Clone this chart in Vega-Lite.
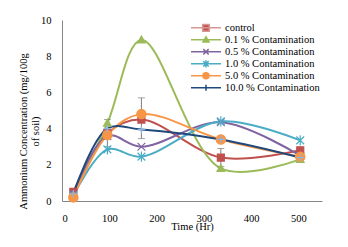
{
  "$schema": "https://vega.github.io/schema/vega-lite/v6.json",
  "autosize": "none",
  "width": 260,
  "height": 181,
  "padding": {"left": 62, "top": 20, "right": 26, "bottom": 46},
  "background": "white",
  "config": {
    "view": {"stroke": null},
    "font": "Liberation Serif",
    "axis": {"grid": false, "ticks": false, "domainColor": "#868686", "domainWidth": 1, "labelFont": "Liberation Serif", "labelFontSize": 10.5, "labelColor": "#000", "titleFont": "Liberation Serif", "titleFontSize": 10.5, "titleFontWeight": "normal", "titleColor": "#000"}
  },
  "data": {
    "values": [
      {"series": "control", "time": 24, "value": 0.5},
      {"series": "control", "time": 96, "value": 3.75, "lo": 3.0, "hi": 4.5},
      {"series": "control", "time": 168, "value": 4.5, "lo": 3.45, "hi": 5.7},
      {"series": "control", "time": 336, "value": 2.4, "lo": 1.9, "hi": 2.9},
      {"series": "control", "time": 504, "value": 2.8},
      {"series": "0.1 % Contamination", "time": 24, "value": 0.3},
      {"series": "0.1 % Contamination", "time": 96, "value": 4.3},
      {"series": "0.1 % Contamination", "time": 168, "value": 8.9},
      {"series": "0.1 % Contamination", "time": 336, "value": 1.8},
      {"series": "0.1 % Contamination", "time": 504, "value": 2.3},
      {"series": "0.5 % Contamination", "time": 24, "value": 0.4},
      {"series": "0.5 % Contamination", "time": 96, "value": 3.6},
      {"series": "0.5 % Contamination", "time": 168, "value": 3.0},
      {"series": "0.5 % Contamination", "time": 336, "value": 4.35},
      {"series": "0.5 % Contamination", "time": 504, "value": 2.5},
      {"series": "1.0 % Contamination", "time": 24, "value": 0.3},
      {"series": "1.0 % Contamination", "time": 96, "value": 2.85},
      {"series": "1.0 % Contamination", "time": 168, "value": 2.45},
      {"series": "1.0 % Contamination", "time": 336, "value": 4.4},
      {"series": "1.0 % Contamination", "time": 504, "value": 3.35},
      {"series": "5.0 % Contamination", "time": 24, "value": 0.2},
      {"series": "5.0 % Contamination", "time": 96, "value": 3.65},
      {"series": "5.0 % Contamination", "time": 168, "value": 4.8},
      {"series": "5.0 % Contamination", "time": 336, "value": 3.4},
      {"series": "5.0 % Contamination", "time": 504, "value": 2.45},
      {"series": "10.0 % Contamination", "time": 24, "value": 0.4},
      {"series": "10.0 % Contamination", "time": 96, "value": 4.0},
      {"series": "10.0 % Contamination", "time": 168, "value": 3.95},
      {"series": "10.0 % Contamination", "time": 336, "value": 3.4},
      {"series": "10.0 % Contamination", "time": 504, "value": 2.4}
    ]
  },
  "encoding": {
    "x": {"field": "time", "type": "quantitative", "scale": {"domain": [0, 550], "nice": false}, "axis": {"values": [0, 100, 200, 300, 400, 500], "title": "Time (Hr)", "labelPadding": 12, "titlePadding": -2}},
    "y": {"field": "value", "type": "quantitative", "scale": {"domain": [0, 10], "nice": false}, "axis": {"values": [0, 2, 4, 6, 8, 10], "title": ["Ammonium Concentration (mg/100g", "of soil)"], "labelPadding": 11, "titleX": -39, "titleY": 111, "titleAngle": -90, "titleAlign": "center", "titleBaseline": "middle", "titleLineHeight": 12}}
  },
  "layer": [
    {
      "mark": {"type": "line", "interpolate": "catmull-rom", "strokeWidth": 2},
      "encoding": {
        "color": {"field": "series", "type": "nominal", "legend": null, "scale": {"domain": ["control", "0.1 % Contamination", "0.5 % Contamination", "1.0 % Contamination", "5.0 % Contamination", "10.0 % Contamination"], "range": ["#C0504D", "#9BBB59", "#8064A2", "#4BACC6", "#F79646", "#1F497D"]}}
      }
    },
    {
      "transform": [{"filter": "isValid(datum.lo)"}],
      "layer": [
        {"mark": {"type": "rule", "color": "#7F7F7F", "strokeWidth": 1}, "encoding": {"y": {"field": "lo", "type": "quantitative"}, "y2": {"field": "hi"}}},
        {"mark": {"type": "tick", "color": "#7F7F7F", "orient": "horizontal", "size": 7, "thickness": 1}, "encoding": {"y": {"field": "hi", "type": "quantitative"}}},
        {"mark": {"type": "tick", "color": "#7F7F7F", "orient": "horizontal", "size": 7, "thickness": 1}, "encoding": {"y": {"field": "lo", "type": "quantitative"}}}
      ]
    },
    {
      "mark": {"type": "point", "filled": true, "opacity": 1, "size": 60, "strokeWidth": 1.2},
      "encoding": {
        "color": {"field": "series", "type": "nominal", "legend": null, "scale": {"domain": ["control", "0.1 % Contamination", "0.5 % Contamination", "1.0 % Contamination", "5.0 % Contamination", "10.0 % Contamination"], "range": ["#C0504D", "#9BBB59", "#8064A2", "#4BACC6", "#F79646", "#8EB4E3"]}},
        "stroke": {"field": "series", "type": "nominal", "legend": null, "scale": {"domain": ["control", "0.1 % Contamination", "0.5 % Contamination", "1.0 % Contamination", "5.0 % Contamination", "10.0 % Contamination"], "range": ["#C0504D", "#9BBB59", "#8064A2", "#4BACC6", "#F79646", "#8EB4E3"]}},
        "shape": {"field": "series", "type": "nominal", "legend": null, "scale": {"domain": ["control", "0.1 % Contamination", "0.5 % Contamination", "1.0 % Contamination", "5.0 % Contamination", "10.0 % Contamination"], "range": ["M-0.9,-0.9H0.9V0.9H-0.9Z", "M0,-1L1,0.8H-1Z", "M-1,-1L1,1M-1,1L1,-1", "M-1,-1L1,1M-1,1L1,-1M0,-1.3V1.3", "M1.2,0A1.2,1.2,0,1,1,-1.2,0A1.2,1.2,0,1,1,1.2,0Z", "M0,-1V1M-1,0H1"]}}
      }
    },
    {
      "transform": [{"filter": "datum.time < 0"}],
      "mark": {"type": "point", "filled": true, "opacity": 1},
      "encoding": {
        "color": {"field": "series", "type": "nominal", "scale": {"domain": ["control", "0.1 % Contamination", "0.5 % Contamination", "1.0 % Contamination", "5.0 % Contamination", "10.0 % Contamination"], "range": ["#C0504D", "#9BBB59", "#8064A2", "#4BACC6", "#F79646", "#1F497D"]}, "legend": {"orient": "none", "legendX": 128, "legendY": 2, "title": null, "labelFont": "Liberation Serif", "labelFontSize": 10.5, "labelColor": "#000", "symbolSize": 900, "clipHeight": 11.7, "rowPadding": 0, "labelOffset": 3, "symbolStrokeWidth": 1.5}},
        "stroke": {"field": "series", "type": "nominal", "scale": {"domain": ["control", "0.1 % Contamination", "0.5 % Contamination", "1.0 % Contamination", "5.0 % Contamination", "10.0 % Contamination"], "range": ["#D99694", "#9BBB59", "#8064A2", "#4BACC6", "#F79646", "#1F497D"]}, "legend": {"orient": "none", "legendX": 128, "legendY": 2, "title": null, "labelFont": "Liberation Serif", "labelFontSize": 10.5, "labelColor": "#000", "symbolSize": 900, "clipHeight": 11.7, "rowPadding": 0, "labelOffset": 3, "symbolStrokeWidth": 1.5}},
        "shape": {"field": "series", "type": "nominal", "scale": {"domain": ["control", "0.1 % Contamination", "0.5 % Contamination", "1.0 % Contamination", "5.0 % Contamination", "10.0 % Contamination"], "range": ["M-1,0H1M-0.22,-0.22H0.22V0.22H-0.22Z", "M-1,0H1M0,-0.2L0.2,0.14H-0.2Z", "M-1,0H1M-0.18,-0.18L0.18,0.18M-0.18,0.18L0.18,-0.18", "M-1,0H1M-0.18,-0.18L0.18,0.18M-0.18,0.18L0.18,-0.18M0,-0.24V0.24", "M-1,0H1M0.2,0A0.2,0.2,0,1,1,-0.2,0A0.2,0.2,0,1,1,0.2,0Z", "M-1,0H1M0,-0.2V0.2"]}, "legend": {"orient": "none", "legendX": 128, "legendY": 2, "title": null, "labelFont": "Liberation Serif", "labelFontSize": 10.5, "labelColor": "#000", "symbolSize": 900, "clipHeight": 11.7, "rowPadding": 0, "labelOffset": 3, "symbolStrokeWidth": 1.5}}
      }
    }
  ],
  "resolve": {"scale": {"color": "independent", "stroke": "independent", "shape": "independent"}}
}
